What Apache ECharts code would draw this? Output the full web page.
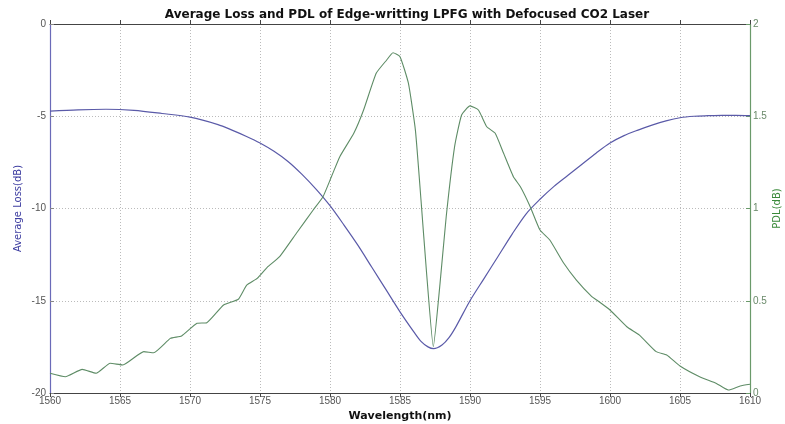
<!DOCTYPE html>
<html>
<head>
<meta charset="utf-8">
<script src="https://cdn.jsdelivr.net/npm/echarts@6/dist/echarts.min.js"></script>
<style>
html,body{margin:0;padding:0;background:#fff;}
#main{width:785px;height:424px;}
</style>
</head>
<body>
<div id="main"></div>
<script>
// average loss curve (dB)
var lossWl = [1560, 1562, 1564, 1566, 1568, 1570, 1572, 1573, 1574, 1575, 1576, 1577, 1578, 1579, 1580,
    1581, 1582, 1583, 1584, 1585, 1586, 1586.5, 1587, 1587.4, 1588, 1588.5, 1589, 1590, 1591, 1592,
    1593, 1594, 1595, 1596, 1597, 1598, 1599, 1600, 1601, 1602, 1603, 1604, 1605, 1606, 1607, 1608, 1609, 1610];
var lossDb = [-4.72, -4.65, -4.62, -4.68, -4.85, -5.05, -5.45, -5.75, -6.08, -6.45, -6.9, -7.45, -8.15, -8.95, -9.85,
    -10.9, -12.0, -13.2, -14.4, -15.6, -16.7, -17.2, -17.5, -17.6, -17.4, -17.0, -16.4, -15.0, -13.8, -12.6,
    -11.4, -10.3, -9.5, -8.8, -8.2, -7.6, -7.0, -6.45, -6.05, -5.75, -5.48, -5.25, -5.08, -5.0, -4.97, -4.95, -4.95, -4.97];

// PDL curve (dB)
var pdlWl = [1560, 1561.1, 1562.3, 1563.3, 1564.3, 1565.2, 1566.7, 1567.4, 1568.6, 1569.4, 1570.5, 1571.2,
    1572.4, 1573.45, 1574.05, 1574.8, 1575.5, 1576.4, 1577.6, 1578.8, 1579.5, 1580.1, 1580.7, 1581.7,
    1582.4, 1583.3, 1584.05, 1584.5, 1585, 1585.6, 1586.1, 1586.5, 1586.9, 1587.38, 1587.86, 1588.3,
    1588.9, 1589.4, 1590, 1590.6, 1591.2, 1591.8, 1592.4, 1593.1, 1593.6, 1594.3, 1595, 1595.7, 1596.7,
    1597.6, 1598.7, 1599.05, 1600, 1601.2, 1602.1, 1603.3, 1604.05, 1605, 1606.4, 1607.6, 1608.45, 1609.3, 1610];
var pdlDb = [0.107, 0.088, 0.128, 0.107, 0.161, 0.152, 0.224, 0.218, 0.296, 0.309, 0.378, 0.381,
    0.477, 0.508, 0.585, 0.621, 0.68, 0.739, 0.866, 0.992, 1.064, 1.172, 1.281, 1.408,
    1.534, 1.733, 1.805, 1.844, 1.823, 1.679, 1.425, 1.046, 0.649, 0.251, 0.594, 0.955,
    1.335, 1.507, 1.556, 1.534, 1.443, 1.408, 1.299, 1.172, 1.118, 1.01, 0.883, 0.829, 0.703,
    0.612, 0.522, 0.504, 0.45, 0.359, 0.314, 0.224, 0.206, 0.146, 0.088, 0.052, 0.016, 0.038, 0.047];

function pairs(xs, ys) {
    var out = [];
    for (var i = 0; i < xs.length; i++) out.push([xs[i], ys[i]]);
    return out;
}

var mychart = echarts.init(document.getElementById('main'));

var labelFont = {color: '#555', fontSize: 10, fontFamily: 'Liberation Sans'};

var option = {
    animation: false,
    backgroundColor: '#fff',
    title: {
        text: 'Average Loss and PDL of Edge-writting LPFG with Defocused CO2 Laser',
        left: 402,
        textAlign: 'center',
        top: 4,
        textStyle: {fontSize: 12, fontWeight: 'bold', color: '#111', fontFamily: 'DejaVu Sans'}
    },
    grid: {left: 50, right: 35, top: 24, bottom: 31, containLabel: false, outerBoundsMode: 'none'},
    xAxis: [{
        type: 'value',
        min: 1560, max: 1610, interval: 5,
        name: 'Wavelength(nm)',
        nameLocation: 'middle',
        nameGap: 18,
        nameMoveOverlap: false,
        nameTextStyle: {fontSize: 11, fontWeight: 'bold', color: '#111', fontFamily: 'DejaVu Sans'},
        axisLine: {lineStyle: {color: '#444', width: 1}},
        axisTick: {inside: true, length: 4, lineStyle: {color: '#444'}},
        axisLabel: Object.assign({margin: 3, formatter: function (v) { return String(v); }}, labelFont),
        splitLine: {show: true, lineStyle: {color: '#bbb', type: [1, 2]}}
    }, {
        type: 'value',
        position: 'top',
        min: 1560, max: 1610, interval: 5,
        axisLine: {show: true, lineStyle: {color: '#444', width: 1}},
        axisTick: {inside: true, length: 4, lineStyle: {color: '#444'}},
        axisLabel: {show: false},
        splitLine: {show: false}
    }],
    yAxis: [{
        type: 'value',
        min: -20, max: 0, interval: 5,
        name: 'Average Loss(dB)',
        nameLocation: 'middle',
        nameGap: 27,
        nameMoveOverlap: false,
        nameTextStyle: {fontSize: 10, color: '#3c3ca0', fontFamily: 'DejaVu Sans'},
        axisLine: {show: true, lineStyle: {color: '#6a6ab8', width: 1.2}},
        axisTick: {show: true, inside: true, length: 4, lineStyle: {color: '#888'}},
        axisLabel: Object.assign({margin: 4}, labelFont),
        splitLine: {show: true, lineStyle: {color: '#bbb', type: [1, 2]}}
    }, {
        type: 'value',
        min: 0, max: 2, interval: 0.5,
        position: 'right',
        name: 'PDL(dB)',
        nameLocation: 'middle',
        nameGap: 22,
        nameRotate: 90,
        nameMoveOverlap: false,
        nameTextStyle: {fontSize: 10, color: '#3a8a3a', fontFamily: 'DejaVu Sans'},
        axisLine: {show: true, lineStyle: {color: '#6a9a6a', width: 1.2}},
        axisTick: {show: true, inside: true, length: 4, lineStyle: {color: '#6a9a6a'}},
        axisLabel: {margin: 3, color: '#6a8a6a', fontSize: 10, fontFamily: 'Liberation Sans'},
        splitLine: {show: false}
    }],
    series: [{
        name: 'Average Loss',
        type: 'line',
        xAxisIndex: 0,
        yAxisIndex: 0,
        smooth: 0.3,
        symbol: 'none',
        lineStyle: {color: '#5a5aa8', width: 1.2},
        data: pairs(lossWl, lossDb)
    }, {
        name: 'PDL',
        type: 'line',
        xAxisIndex: 0,
        yAxisIndex: 1,
        smooth: 0.15,
        symbol: 'none',
        lineStyle: {color: '#5e8c66', width: 1.1},
        data: pairs(pdlWl, pdlDb)
    }]
};
mychart.setOption(option);
</script>
</body>
</html>
